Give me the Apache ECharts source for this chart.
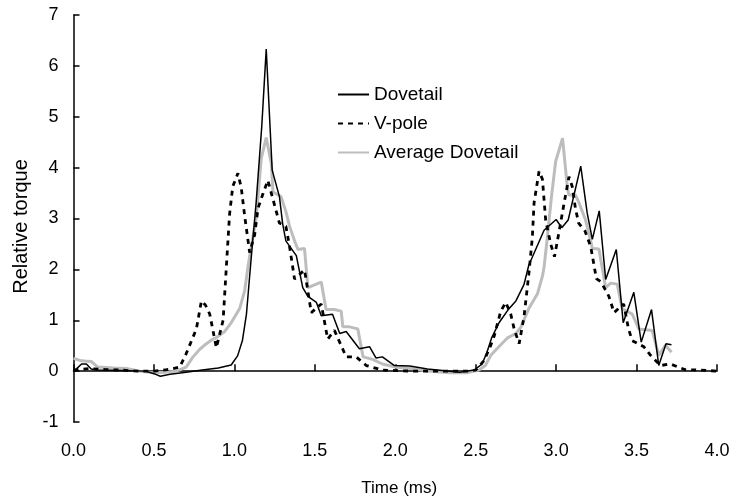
<!DOCTYPE html>
<html>
<head>
<meta charset="utf-8">
<script src="https://cdn.jsdelivr.net/npm/echarts@6/dist/echarts.min.js"></script>
<style>
  html, body { margin: 0; padding: 0; background: #fff; }
  #chart { width: 735px; height: 502px; }
</style>
</head>
<body>
<div id="chart"></div>
<script>
// Dovetail (solid black)
var dovetailTime = [0.00, 0.02, 0.05, 0.08, 0.11, 0.15, 0.30, 0.45, 0.50, 0.54, 0.60, 0.70, 0.80, 0.90, 0.98,
    1.02, 1.05, 1.075, 1.095, 1.115, 1.135, 1.17, 1.198, 1.235, 1.28, 1.30, 1.32, 1.385, 1.425, 1.457,
    1.51, 1.54, 1.61, 1.655, 1.695, 1.777, 1.84, 1.88, 1.92, 1.995, 2.09, 2.20, 2.40, 2.49, 2.54,
    2.57, 2.60, 2.645, 2.70, 2.75, 2.80, 2.83, 2.925, 3.00, 3.035, 3.075, 3.153, 3.193, 3.225, 3.268,
    3.308, 3.374, 3.417, 3.483, 3.529, 3.593, 3.638, 3.683, 3.717];
var dovetailTorque = [0.00, 0.05, 0.14, 0.14, 0.04, 0.02, 0.01, 0.00, -0.05, -0.10, -0.06, -0.02, 0.02, 0.06, 0.12,
    0.30, 0.60, 1.12, 1.87, 2.60, 3.30, 4.80, 6.33, 3.95, 3.43, 2.90, 2.56, 2.27, 1.64, 1.47,
    1.35, 1.09, 1.12, 0.74, 0.78, 0.44, 0.48, 0.26, 0.28, 0.11, 0.10, 0.04, -0.02, 0.02, 0.14,
    0.37, 0.66, 0.95, 1.20, 1.38, 1.70, 2.08, 2.77, 2.98, 2.82, 2.97, 4.03, 3.11, 2.59, 3.15,
    1.80, 2.39, 0.95, 1.55, 0.57, 1.21, 0.11, 0.54, 0.52];

// V-pole (dashed black)
var vpoleTime = [0.00, 0.10, 0.20, 0.30, 0.40, 0.50, 0.58, 0.62, 0.66, 0.70, 0.764, 0.795, 0.82, 0.847, 0.888,
    0.93, 0.95, 0.97, 0.99, 1.022, 1.043, 1.064, 1.095, 1.126, 1.147, 1.178, 1.208, 1.22, 1.25, 1.28,
    1.32, 1.343, 1.374, 1.436, 1.478, 1.54, 1.58, 1.622, 1.695, 1.757, 1.82, 1.92, 2.10, 2.30, 2.45,
    2.50, 2.55, 2.584, 2.615, 2.656, 2.687, 2.718, 2.739, 2.77, 2.80, 2.83, 2.852, 2.863, 2.894, 2.915,
    2.935, 2.966, 2.99, 3.02, 3.05, 3.08, 3.10, 3.12, 3.14, 3.18, 3.215, 3.25, 3.28, 3.328, 3.36,
    3.42, 3.45, 3.473, 3.545, 3.587, 3.649, 3.71, 3.80, 3.90, 4.00];
var vpoleTorque = [0.02, 0.05, 0.03, 0.02, 0.00, 0.00, 0.03, 0.05, 0.08, 0.34, 0.83, 1.38, 1.30, 1.12, 0.46,
    1.00, 2.04, 3.08, 3.63, 3.89, 3.60, 3.05, 2.33, 2.68, 3.20, 3.49, 3.75, 3.78, 3.26, 2.91,
    2.85, 2.45, 1.81, 1.99, 1.15, 1.32, 0.63, 0.80, 0.28, 0.28, 0.11, 0.02, 0.00, 0.00, 0.00,
    0.02, 0.20, 0.43, 0.69, 1.18, 1.35, 1.12, 0.83, 0.54, 1.06, 1.90, 2.62, 3.31, 3.93, 3.77,
    2.97, 2.50, 2.25, 2.77, 3.31, 3.82, 3.63, 3.20, 2.91, 2.75, 2.45, 1.82, 1.75, 1.47, 1.15,
    1.32, 0.83, 0.60, 0.48, 0.31, 0.11, 0.14, 0.03, 0.02, 0.00];

// Average Dovetail (grey)
var avgTime = [0.00, 0.04, 0.07, 0.11, 0.15, 0.25, 0.33, 0.41, 0.495, 0.57, 0.64, 0.70, 0.743, 0.785, 0.826,
    0.867, 0.888, 0.94, 0.98, 1.033, 1.064, 1.084, 1.105, 1.135, 1.167, 1.198, 1.23, 1.24, 1.29, 1.32,
    1.343, 1.374, 1.395, 1.436, 1.457, 1.54, 1.57, 1.62, 1.664, 1.674, 1.715, 1.767, 1.80, 1.86, 1.92,
    2.00, 2.10, 2.20, 2.335, 2.45, 2.52, 2.56, 2.594, 2.635, 2.70, 2.75, 2.78, 2.83, 2.884, 2.915,
    2.925, 2.945, 2.97, 2.997, 3.04, 3.07, 3.08, 3.12, 3.142, 3.183, 3.215, 3.225, 3.266, 3.308, 3.339,
    3.38, 3.41, 3.473, 3.514, 3.597, 3.638, 3.68, 3.717];
var avgTorque = [0.25, 0.21, 0.20, 0.19, 0.08, 0.06, 0.05, 0.00, -0.03, -0.02, 0.00, 0.08, 0.28, 0.43, 0.54,
    0.63, 0.66, 0.78, 0.95, 1.23, 1.58, 2.04, 2.45, 3.00, 4.18, 4.59, 4.07, 3.52, 3.43, 3.14,
    2.85, 2.56, 2.39, 2.41, 1.64, 1.75, 1.21, 1.21, 1.18, 0.87, 0.87, 0.83, 0.28, 0.23, 0.14,
    0.08, 0.05, 0.00, -0.03, -0.03, 0.02, 0.11, 0.31, 0.45, 0.66, 0.74, 0.86, 1.23, 1.52, 1.87,
    2.04, 2.62, 3.40, 4.12, 4.58, 3.60, 3.46, 3.46, 3.31, 2.97, 2.56, 2.41, 2.40, 1.64, 1.73,
    1.71, 1.23, 1.12, 0.83, 0.80, 0.31, 0.51, 0.37];

function pairs(xs, ys) {
    return xs.map(function (x, i) { return [x, ys[i]]; });
}

var font = "Liberation Sans, Arial, sans-serif";
var chart = echarts.init(document.getElementById("chart"), null, {renderer: "canvas"});
var option = {
    animation: false,
    textStyle: {fontFamily: font, color: "#000"},
    grid: {left: 73.5, right: 18, top: 15, bottom: 25, containLabel: false},
    legend: {
        orient: "vertical",
        left: 332,
        top: 80,
        itemWidth: 31,
        itemHeight: 19,
        itemGap: 10,
        itemStyle: {opacity: 0},
        data: ["Dovetail", "V-pole", "Average Dovetail"],
        textStyle: {fontFamily: font, fontSize: 19, color: "#000"}
    },
    xAxis: {
        type: "value",
        min: 0,
        max: 4,
        interval: 0.5,
        name: "Time (ms)",
        nameLocation: "middle",
        nameGap: 58,
        nameTextStyle: {fontFamily: font, fontSize: 17, color: "#000", padding: [0, 0, 0, 8]},
        axisLine: {onZero: true, lineStyle: {color: "#000", width: 1.5}},
        axisTick: {inside: true, length: 7, lineStyle: {color: "#000", width: 1.5}},
        axisLabel: {
            margin: 20,
            fontSize: 18,
            color: "#000",
            formatter: function (v) { return v.toFixed(1); }
        },
        splitLine: {show: false}
    },
    yAxis: {
        type: "value",
        min: -1,
        max: 7,
        interval: 1,
        name: "Relative torque",
        nameLocation: "middle",
        nameGap: 41,
        nameTextStyle: {fontFamily: font, fontSize: 20, color: "#000", padding: [0, 16, 0, 0]},
        axisLine: {show: true, lineStyle: {color: "#000", width: 1.5}},
        axisTick: {show: true, inside: true, length: 6, lineStyle: {color: "#000", width: 1.5}},
        axisLabel: {margin: 15, fontSize: 18, color: "#000"},
        splitLine: {show: false}
    },
    series: [
        {
            name: "Average Dovetail",
            type: "line",
            data: pairs(avgTime, avgTorque),
            symbol: "none",
            z: 1,
            itemStyle: {color: "#bdbdbd"},
            lineStyle: {color: "#bdbdbd", width: 3}
        },
        {
            name: "V-pole",
            type: "line",
            data: pairs(vpoleTime, vpoleTorque),
            symbol: "none",
            z: 2,
            itemStyle: {color: "#000"},
            lineStyle: {color: "#000", width: 2.8, type: [5, 5]}
        },
        {
            name: "Dovetail",
            type: "line",
            data: pairs(dovetailTime, dovetailTorque),
            symbol: "none",
            z: 3,
            itemStyle: {color: "#000"},
            lineStyle: {color: "#000", width: 1.5}
        }
    ]
};
chart.setOption(option);
</script>
</body>
</html>
